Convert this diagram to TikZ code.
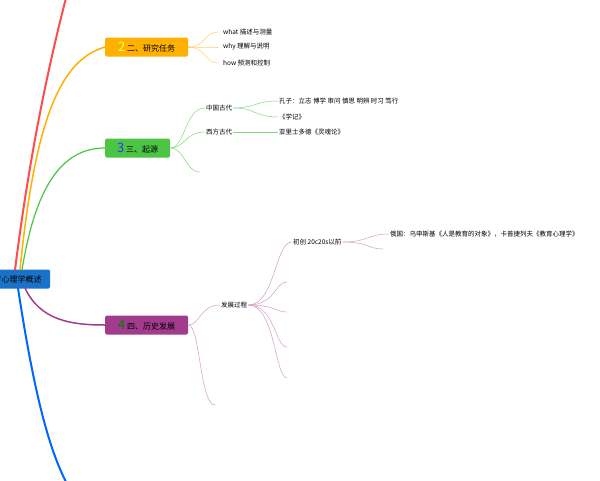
\documentclass[tikz,border=0pt]{standalone}
\usepackage{fontspec}
\setmainfont{Noto Sans CJK SC}
\usetikzlibrary{positioning}
\definecolor{tasko}{HTML}{FFB000}
\definecolor{origg}{HTML}{4CC444}
\definecolor{histp}{HTML}{A23B8C}
\definecolor{rootb}{HTML}{1A73C8}
\begin{document}
\begin{tikzpicture}[x=1pt,y=-1pt,
    topic/.style={rectangle, rounded corners=1.5pt, minimum height=19pt, inner sep=2pt, font=\fontsize{8}{9}\selectfont, anchor=west},
    leaf/.style={inner sep=1pt, font=\fontsize{6.5}{7.5}\selectfont, anchor=west},
    twig/.style={line width=0.5pt}]
    \useasboundingbox (0,0) rectangle (600,480);
    \node[topic, fill=rootb, minimum width=65pt] (root) at (-15,279) {\hspace*{-8pt}教育心理学概述};
    % main branches
    \draw[line width=2pt, color=red!70] (15,270) .. controls (30,150) and (50,60) .. (66,-2);
    \draw[line width=2pt, color=blue!60!cyan] (18,288) .. controls (35,400) and (50,450) .. (66,482);
    \node[topic, fill=tasko, minimum width=83pt] (T2) at (105,47) {{\fontsize{13}{13}\selectfont\color{yellow!60}2} 二、研究任务};
    \node[topic, fill=origg, minimum width=65pt] (T3) at (105,148) {{\fontsize{13}{13}\selectfont\color{blue!80}3} 三、起源};
    \node[topic, fill=histp, minimum width=83pt] (T4) at (105,325) {{\fontsize{13}{13}\selectfont\color{green!50!black}4} 四、历史发展};
    \draw[line width=1.5pt, tasko] (20,270) .. controls (35,120) and (60,60) .. (T2.west);
    \draw[line width=1.2pt, origg] (22,270) .. controls (35,190) and (60,148) .. (T3.west);
    \draw[line width=1.5pt, histp] (25,288) .. controls (40,320) and (70,325) .. (T4.west);
    % tasks
    \foreach \y/\t [count=\i] in {32/what 描述与测量, 47/why 理解与说明, 63/how 预测和控制} {
        \node[leaf] (a\i) at (222,\y) {\t};
        \coordinate (ae\i) at (218,\y);
        \draw[twig, tasko!60] (T2.east) .. controls (205,47) and (205,\y) .. (ae\i);
    }
    % origins
    \node[leaf] (cn) at (205,108) {中国古代};
    \node[leaf] (we) at (205,132) {西方古代};
    \coordinate (oe) at (200,172);
    \foreach \n in {cn,we} \draw[twig, origg!70] (T3.east) .. controls (185,148) and (185,0|-\n.west) .. (\n.west);
    \draw[twig, origg!70] (T3.east) .. controls (185,148) and (185,172) .. (oe);
    \node[leaf] (kz) at (278,101) {孔子：立志 博学 审问 慎思 明辨 时习 笃行};
    \node[leaf] (xj) at (278,117) {《学记》};
    \node[leaf] (al) at (278,132) {亚里士多德《灵魂论》};
    \foreach \n in {kz,xj} \draw[twig, origg!70] (cn.east) .. controls (255,108) and (255,0|-\n.west) .. (\n.west);
    \draw[twig, origg!70] (we.east) -- (al.west);
    % history
    \node[leaf] (fz) at (220,305) {发展过程};
    \coordinate (he) at (215,405);
    \draw[twig, histp!50] (T4.east) .. controls (200,325) and (200,305) .. (fz.west);
    \draw[twig, histp!50] (T4.east) .. controls (200,325) and (200,405) .. (he);
    \node[leaf] (cc) at (292,242) {初创 20c20s以前};
    \draw[twig, histp!50] (fz.east) .. controls (275,305) and (275,242) .. (cc.west);
    \foreach \y [count=\i] in {282,312,347,378} {
        \coordinate (pe\i) at (287,\y);
        \draw[twig, histp!50] (fz.east) .. controls (275,305) and (275,\y) .. (pe\i);
    }
    \node[leaf] (ru) at (389,234) {俄国：乌申斯基《人是教育的对象》，卡普捷列夫《教育心理学》};
    \coordinate (re) at (383,249);
    \draw[twig, histp!50] (cc.east) .. controls (368,242) and (368,234) .. (ru.west);
    \draw[twig, histp!50] (cc.east) .. controls (368,242) and (368,249) .. (re);
\end{tikzpicture}
\end{document}
